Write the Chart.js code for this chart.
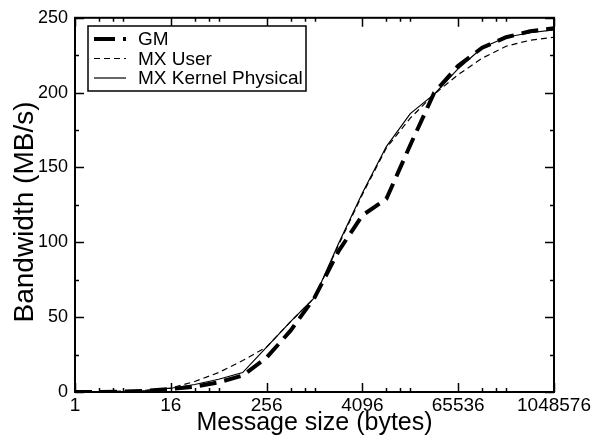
<!DOCTYPE html>
<html>
<head>
<meta charset="utf-8">
<script src="https://cdn.jsdelivr.net/npm/chart.js@4"></script>
<style>
  html, body { margin: 0; padding: 0; background: #fff; }
  #wrap { width: 594px; height: 441px; }
</style>
</head>
<body>
<div id="wrap"><canvas id="bw" width="594" height="441"></canvas></div>
<script>
// message sizes (bytes), powers of two
const sizes = [1, 2, 4, 8, 16, 32, 64, 128, 256, 512, 1024, 2048, 4096, 8192,
  16384, 32768, 65536, 131072, 262144, 524288, 1048576];

// bandwidth MB/s
const gm       = [0, 0, 0.3, 0.8, 2, 3.5, 6.5, 11, 23, 41, 63, 94, 118, 129,
  165, 200, 218, 230, 237, 241, 243];
const mxUser   = [0.1, 0.3, 0.6, 1.2, 2.6, 7, 13, 21, 30, 47, 63, 98, 132, 163,
  183, 199, 212, 223, 231, 235, 237];
const mxKernel = [0.1, 0.2, 0.4, 1, 2.5, 5, 8.5, 13, 30, 47, 63, 99, 133, 164,
  186, 199, 216, 230, 237, 240, 242];

const xMajor = [1, 16, 256, 4096, 65536, 1048576];
const xMinorMult = [2, 3, 4];
const yMajor = [0, 50, 100, 150, 200, 250];
const yMinor = [25, 75, 125, 175, 225];
const yTitle = 'Bandwidth (MB/s)';

const FONT = 'Liberation Sans, Arial, Helvetica, sans-serif';

const series = [
  { label: 'GM',                 data: gm,       width: 4,   dash: [17, 8] },
  { label: 'MX User',            data: mxUser,   width: 1.2, dash: [6, 4] },
  { label: 'MX Kernel Physical', data: mxKernel, width: 1.2, dash: [] },
];

// inward ticks on all four sides + frame
const framePlugin = {
  id: 'frame',
  afterDatasetsDraw(chart) {
    const { ctx, chartArea: a, scales } = chart;
    const xs = scales.x, ys = scales.y;
    ctx.save();
    ctx.strokeStyle = '#000';
    ctx.lineWidth = 1.5;
    ctx.beginPath();
    const xTick = (v, len) => {
      const p = Math.round(xs.getPixelForValue(v)) + 0.5;
      ctx.moveTo(p, a.bottom); ctx.lineTo(p, a.bottom - len);
      ctx.moveTo(p, a.top);    ctx.lineTo(p, a.top + len);
    };
    const yTick = (v, len) => {
      const p = Math.round(ys.getPixelForValue(v)) + 0.5;
      ctx.moveTo(a.left, p);  ctx.lineTo(a.left + len, p);
      ctx.moveTo(a.right, p); ctx.lineTo(a.right - len, p);
    };
    xMajor.forEach(v => xTick(v, 9));
    xMajor.slice(0, -1).forEach(v => xMinorMult.forEach(m => xTick(v * m, 4)));
    yMajor.forEach(v => yTick(v, 9));
    yMinor.forEach(v => yTick(v, 4));
    ctx.stroke();
    ctx.lineWidth = 2;
    ctx.strokeRect(a.left, a.top, a.right - a.left, a.bottom - a.top);

    // y axis title, rotated
    ctx.save();
    ctx.translate(33, 212);
    ctx.rotate(-Math.PI / 2);
    ctx.fillStyle = '#000';
    ctx.font = '28px ' + FONT;
    ctx.textAlign = 'center';
    ctx.textBaseline = 'alphabetic';
    ctx.fillText(yTitle, 0, 0);
    ctx.restore();
    ctx.restore();
  }
};

// boxed legend in upper-left of the plot
const legendPlugin = {
  id: 'boxLegend',
  afterDraw(chart) {
    const { ctx } = chart;
    const bx = 88, by = 26, bw = 218, bh = 65;
    ctx.save();
    ctx.fillStyle = '#fff';
    ctx.fillRect(bx, by, bw, bh);
    ctx.strokeStyle = '#000';
    ctx.lineWidth = 1.5;
    ctx.strokeRect(bx, by, bw, bh);
    chart.data.datasets.forEach((ds, i) => {
      const y = by + 13 + i * 19.5;
      ctx.beginPath();
      ctx.lineWidth = ds.borderWidth;
      ctx.setLineDash(i === 0 ? [21, 8] : ds.borderDash);
      ctx.moveTo(94, y); ctx.lineTo(126, y);
      ctx.stroke();
      ctx.setLineDash([]);
      ctx.fillStyle = '#000';
      ctx.font = '19px ' + FONT;
      ctx.textBaseline = 'middle';
      ctx.fillText(ds.label, 138, y + 1);
    });
    ctx.restore();
  }
};

new Chart(document.getElementById('bw'), {
  type: 'line',
  data: {
    labels: sizes,
    datasets: series.map(s => ({
      label: s.label,
      data: sizes.map((x, i) => ({ x, y: s.data[i] })),
      borderColor: '#000',
      borderWidth: s.width,
      borderDash: s.dash,
      pointRadius: 0,
      tension: 0,
      fill: false,
    }))
  },
  options: {
    responsive: false,
    animation: false,
    devicePixelRatio: 1,
    layout: { padding: { top: 13, right: 40, bottom: 0, left: 0 } },
    plugins: { legend: { display: false }, tooltip: { enabled: false } },
    scales: {
      x: {
        type: 'logarithmic',
        min: 1, max: 1048576,
        grid: { display: false, drawTicks: false, tickLength: 0 },
        border: { display: false },
        afterBuildTicks: s => { s.ticks = xMajor.map(v => ({ value: v })); },
        afterFit: s => { s.height = 49; },
        ticks: {
          autoSkip: false, maxRotation: 0, padding: 2,
          color: '#000', font: { family: FONT, size: 19 },
          callback: v => String(v),
        },
        title: {
          display: true, text: 'Message size (bytes)', color: '#000',
          font: { family: FONT, size: 25, lineHeight: 1 }, padding: { top: 0, bottom: 5 },
        },
      },
      y: {
        min: 0, max: 250,
        grid: { display: false, drawTicks: false, tickLength: 0 },
        border: { display: false },
        afterBuildTicks: s => { s.ticks = yMajor.map(v => ({ value: v })); },
        afterFit: s => { s.width = 75; },
        ticks: {
          padding: 7, color: '#000', font: { family: FONT, size: 18 },
        },
      },
    },
  },
  plugins: [framePlugin, legendPlugin],
});
</script>
</body>
</html>
